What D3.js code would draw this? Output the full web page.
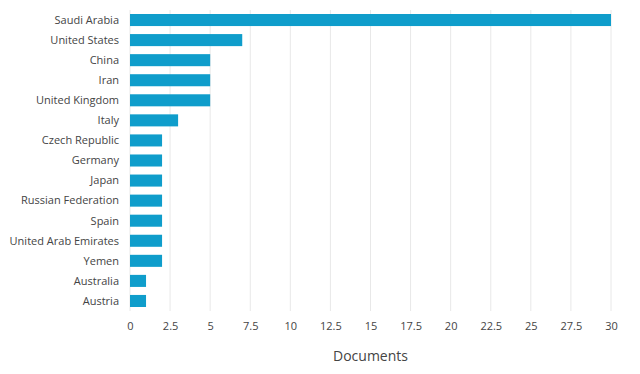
<!DOCTYPE html>
<html>
<head>
<meta charset="utf-8">
<script src="https://cdn.jsdelivr.net/npm/d3@7"></script>
<style>
  body { margin: 0; background: #fff; }
  svg text { font-family: "Open Sans", "Noto Sans", sans-serif; fill: #444; }
</style>
</head>
<body>
<svg id="chart" width="640" height="374"></svg>
<script>
const countries = ["Saudi Arabia", "United States", "China", "Iran", "United Kingdom", "Italy",
    "Czech Republic", "Germany", "Japan", "Russian Federation", "Spain",
    "United Arab Emirates", "Yemen", "Australia", "Austria"];
const documents = [30, 7, 5, 5, 5, 3, 2, 2, 2, 2, 2, 2, 2, 1, 1];
const xTicks = [0, 2.5, 5, 7.5, 10, 12.5, 15, 17.5, 20, 22.5, 25, 27.5, 30];

const svg = d3.select("#chart");
const x = d3.scaleLinear().domain([0, 30]).range([130, 611]);
const y = d3.scaleBand().domain(countries).range([10, 311]).paddingInner(0.4).paddingOuter(0.2);

// grid
svg.append("g").selectAll("line")
    .data(xTicks)
    .join("line")
    .attr("x1", d => x(d)).attr("x2", d => x(d))
    .attr("y1", 10).attr("y2", 311)
    .attr("stroke", "#e8e8e8")
    .attr("stroke-width", 1);

// bars
svg.append("g").selectAll("rect")
    .data(countries)
    .join("rect")
    .attr("x", x(0))
    .attr("y", d => y(d))
    .attr("width", (d, i) => x(documents[i]) - x(0))
    .attr("height", y.bandwidth())
    .attr("fill", "#0f9dcb");

// category labels
svg.append("g").selectAll("text")
    .data(countries)
    .join("text")
    .attr("x", 119)
    .attr("y", d => y(d) + y.bandwidth() / 2)
    .attr("dy", "0.35em")
    .attr("text-anchor", "end")
    .style("font-size", "11px")
    .text(d => d);

// x tick labels
const xAxis = svg.append("g")
    .attr("transform", "translate(0,311)")
    .call(d3.axisBottom(x).tickValues(xTicks).tickSize(0).tickPadding(11).tickFormat(d3.format("")));
xAxis.select(".domain").remove();
xAxis.selectAll("text").style("font-size", "11px").style("font-family", "\"Open Sans\", sans-serif").attr("fill", "#444");

svg.append("text")
    .attr("x", (x(0) + x(30)) / 2)
    .attr("y", 361)
    .attr("text-anchor", "middle")
    .style("font-size", "14px")
    .text("Documents");
</script>
</body>
</html>
